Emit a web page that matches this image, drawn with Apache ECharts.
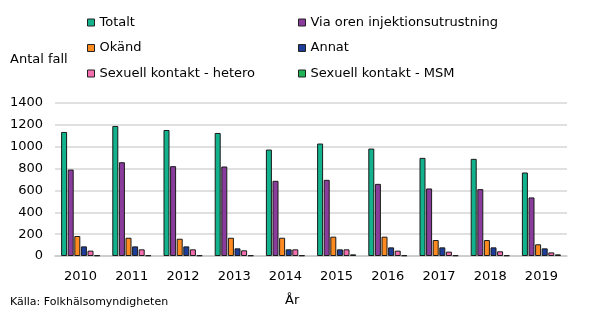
<!DOCTYPE html>
<html>
<head>
<meta charset="utf-8">
<script src="https://cdn.jsdelivr.net/npm/echarts@6/dist/echarts.min.js"></script>
<style>
html,body{margin:0;padding:0;background:#fff;}
#c{width:590px;height:325px;}
</style>
</head>
<body>
<div id="c"></div>
<script>
const years = ['2010','2011','2012','2013','2014','2015','2016','2017','2018','2019'];
const seriesNames = ['Totalt','Via oren injektionsutrustning','Okänd','Annat','Sexuell kontakt - hetero','Sexuell kontakt - MSM'];
const totalt   = [1135, 1190, 1153, 1126, 974, 1029, 983, 898, 889, 764];
const viaOren  = [791, 858, 822, 819, 688, 697, 660, 618, 612, 536];
const okand    = [183, 167, 158, 167, 167, 177, 177, 146, 146, 107];
const annat    = [88, 88, 88, 70, 61, 61, 79, 79, 79, 70];
const hetero   = [49, 61, 61, 52, 61, 61, 49, 40, 43, 33];
const msm      = [6, 6, 6, 6, 6, 15, 6, 6, 6, 15];
const yTicks = { min: 0, max: 1400, interval: 200 };
const colors = ['#12B38C','#8A3C9C','#FF8A1F','#1E3D98','#F56FB0','#1DB356'];

const allData = [totalt, viaOren, okand, annat, hetero, msm];
const FONT = 'DejaVu Sans';

const chart = echarts.init(document.getElementById('c'), null, {renderer:'canvas'});
const legendCommon = {
  orient: 'vertical',
  itemWidth: 7, itemHeight: 7,
  itemGap: 12.5,
  icon: 'rect',
  itemStyle: { borderColor: '#222', borderWidth: 1 },
  textStyle: { fontFamily: FONT, fontSize: 13, color: '#000' },
  selectedMode: false
};
chart.setOption({
  animation: false,
  color: colors,
  textStyle: { fontFamily: FONT },
  legend: [
    Object.assign({}, legendCommon, { left: 82, top: 11, data: [seriesNames[0], seriesNames[2], seriesNames[4]] }),
    Object.assign({}, legendCommon, { left: 293, top: 11, data: [seriesNames[1], seriesNames[3], seriesNames[5]] })
  ],
  grid: { left: 55, right: 23, top: 103, bottom: 69, containLabel: false },
  xAxis: {
    type: 'category',
    data: years,
    axisTick: { show: false },
    axisLine: { lineStyle: { color: '#c8c8c8', width: 1.5 } },
    axisLabel: { color: '#000', fontSize: 13, fontFamily: FONT, margin: 14 }
  },
  yAxis: {
    type: 'value',
    min: yTicks.min, max: yTicks.max, interval: yTicks.interval,
    axisLine: { show: false },
    axisTick: { show: false },
    axisLabel: { color: '#000', fontSize: 13, fontFamily: FONT, margin: 12, formatter: v => String(v) },
    splitLine: { lineStyle: { color: '#d6d6d6', width: 1.5 } }
  },
  series: seriesNames.map((n, i) => ({
    name: n,
    type: 'bar',
    data: allData[i],
    barWidth: 6,
    barGap: '10%',
    itemStyle: { borderColor: '#1a1a1a', borderWidth: 1 }
  })),
  graphic: [
    { type: 'text', left: 10, top: 53, style: { text: 'Antal fall', font: '13px "DejaVu Sans"', fill: '#000' } },
    { type: 'text', left: 285, top: 294, style: { text: 'År', font: '13px "DejaVu Sans"', fill: '#000' } },
    { type: 'text', left: 10, top: 297, style: { text: 'Källa: Folkhälsomyndigheten', font: '11px "DejaVu Sans"', fill: '#000' } }
  ]
});
</script>
</body>
</html>
